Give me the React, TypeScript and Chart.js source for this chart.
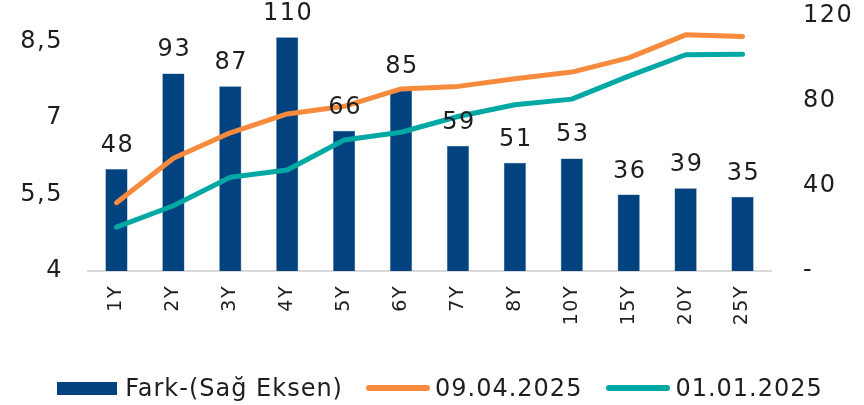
import React, { useEffect, useRef } from "react";
import { Chart, registerables } from "chart.js";

Chart.register(...registerables);

const categories = ["1Y", "2Y", "3Y", "4Y", "5Y", "6Y", "7Y", "8Y", "10Y", "15Y", "20Y", "25Y"];
const farkValues = [48, 93, 87, 110, 66, 85, 59, 51, 53, 36, 39, 35];
const apr2025 = [5.34, 6.21, 6.71, 7.08, 7.23, 7.57, 7.62, 7.77, 7.9, 8.18, 8.63, 8.6];
const jan2025 = [4.86, 5.28, 5.84, 5.98, 6.57, 6.72, 7.03, 7.26, 7.37, 7.82, 8.24, 8.25];
const leftTicks = [4, 5.5, 7, 8.5];
const rightTicks = [0, 40, 80, 120];

const seriesNames = ["Fark-(Sağ Eksen)", "09.04.2025", "01.01.2025"];
const BAR = "#01427F";
const ORANGE = "#F68B3E";
const TEAL = "#02A8A4";
const TEXT = "#1e1e1e";
const FONT = "'DejaVu Sans', sans-serif";

const spacingPlugin = {
  id: "spacing",
  beforeDraw(chart: any) {
    chart.ctx.letterSpacing = "1.5px";
  },
};

const barLabels = {
  id: "barLabels",
  afterDatasetsDraw(chart: any) {
    const ctx = chart.ctx;
    const meta = chart.getDatasetMeta(0);
    ctx.save();
    ctx.letterSpacing = "1.5px";
    ctx.font = `24px ${FONT}`;
    ctx.fillStyle = TEXT;
    ctx.textAlign = "center";
    ctx.textBaseline = "alphabetic";
    meta.data.forEach((el: any, i: number) => {
      ctx.fillText(String(farkValues[i]), el.x + 1, el.y - 17);
    });
    ctx.restore();
  },
};

const fixVertical = (w: number) => (scale: any) => {
  scale.width = w;
  scale.paddingTop = 10;
  scale.paddingBottom = 0;
};

export default function App() {
  const ref = useRef<HTMLCanvasElement>(null);
  useEffect(() => {
    if (!ref.current) return;
    const chart = new Chart(ref.current, {
      type: "bar",
      data: {
        labels: categories,
        datasets: [
          {
            type: "bar",
            label: seriesNames[0],
            data: farkValues,
            backgroundColor: BAR,
            borderColor: "#3d6b9c",
            borderWidth: 0.5,
            yAxisID: "yR",
            barPercentage: 0.39,
            categoryPercentage: 1,
            order: 1,
          },
          {
            type: "line",
            label: seriesNames[1],
            data: apr2025,
            borderColor: ORANGE,
            backgroundColor: ORANGE,
            borderWidth: 5,
            pointRadius: 0,
            tension: 0,
            borderCapStyle: "round",
            borderJoinStyle: "round",
            yAxisID: "yL",
            order: 0,
          },
          {
            type: "line",
            label: seriesNames[2],
            data: jan2025,
            borderColor: TEAL,
            backgroundColor: TEAL,
            borderWidth: 5,
            pointRadius: 0,
            tension: 0,
            borderCapStyle: "round",
            borderJoinStyle: "round",
            yAxisID: "yL",
            order: 0,
          },
        ],
      } as any,
      options: {
        responsive: false,
        animation: false,
        devicePixelRatio: 1,
        layout: { padding: { top: 16, left: 0, right: 0, bottom: 0 } },
        plugins: { legend: { display: false }, tooltip: { enabled: false } },
        scales: {
          x: {
            grid: { display: false, drawTicks: false },
            border: { display: true, color: "#D9D9D9", width: 2 },
            ticks: {
              color: TEXT,
              font: { family: FONT, size: 19 },
              minRotation: 90,
              maxRotation: 90,
              padding: 14,
              autoSkip: false,
            },
            afterFit(scale: any) {
              scale.height = 134;
              scale.paddingLeft = 0;
              scale.paddingRight = 0;
            },
          },
          yL: {
            position: "left",
            min: 4,
            max: 9,
            grid: { display: false, drawTicks: false },
            border: { display: false },
            afterBuildTicks(scale: any) {
              scale.ticks = leftTicks.map((v) => ({ value: v }));
            },
            ticks: {
              color: TEXT,
              font: { family: FONT, size: 24 },
              padding: 25,
              callback: (v: any) => String(v).replace(".", ","),
            },
            afterFit: fixVertical(88),
          },
          yR: {
            position: "right",
            min: 0,
            max: 120,
            grid: { display: false, drawTicks: false },
            border: { display: false },
            afterBuildTicks(scale: any) {
              scale.ticks = rightTicks.map((v) => ({ value: v }));
            },
            ticks: {
              color: TEXT,
              font: { family: FONT, size: 24 },
              padding: 32,
              callback: (v: any) => (v === 0 ? "-" : String(v)),
            },
            afterFit: fixVertical(93),
          },
        },
      } as any,
      plugins: [spacingPlugin, barLabels],
    });
    return () => chart.destroy();
  }, []);

  const textStyle: React.CSSProperties = {
    fontFamily: FONT,
    fontSize: 24,
    letterSpacing: "1px",
    color: TEXT,
    lineHeight: "26px",
    whiteSpace: "nowrap",
  };
  const lineSwatch = (c: string): React.CSSProperties => ({
    width: 64,
    height: 6,
    borderRadius: 3,
    background: c,
    marginRight: 5,
  });

  return (
    <div style={{ position: "fixed", left: 0, top: 0, width: 864, height: 405, background: "#fff" }}>
      <canvas ref={ref} width={864} height={405} style={{ position: "absolute", left: 0, top: 0 }} />
      <div
        style={{
          position: "absolute",
          left: 0,
          width: 880,
          top: 375,
          display: "flex",
          justifyContent: "center",
          alignItems: "center",
        }}
      >
        <div style={{ width: 60, height: 13, background: BAR, marginRight: 8 }} />
        <span style={{ ...textStyle, marginRight: 23 }}>{seriesNames[0]}</span>
        <div style={lineSwatch(ORANGE)} />
        <span style={{ ...textStyle, marginRight: 24 }}>{seriesNames[1]}</span>
        <div style={lineSwatch(TEAL)} />
        <span style={textStyle}>{seriesNames[2]}</span>
      </div>
    </div>
  );
}
